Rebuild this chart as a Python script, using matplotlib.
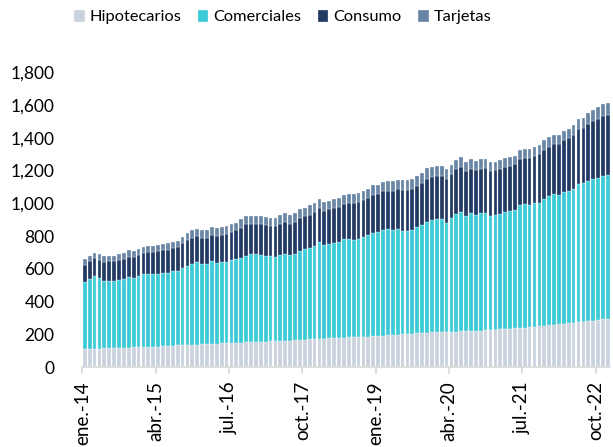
import numpy as np
import matplotlib
matplotlib.use('Agg')
import matplotlib.pyplot as plt
from matplotlib.ticker import FuncFormatter

plt.rcParams['font.family'] = ['Lato', 'DejaVu Sans']

# monthly, ene.14 .. dic.22
hipotecarios = [112, 112, 112, 113, 115, 117, 118, 118, 119, 120,
                122, 123, 124, 124, 125, 126, 127, 130, 132, 134,
                135, 137, 138, 139, 140, 141, 142, 144, 146, 147,
                148, 149, 151, 153, 154, 155, 156, 157, 158, 160,
                161, 162, 163, 164, 166, 168, 170, 171, 173, 175,
                177, 178, 179, 181, 183, 184, 185, 186, 187, 189,
                191, 193, 195, 197, 199, 201, 203, 205, 207, 209,
                211, 213, 214, 215, 216, 217, 218, 219, 220, 221,
                222, 224, 226, 228, 230, 232, 234, 236, 238, 240,
                242, 245, 248, 250, 253, 256, 259, 262, 265, 268,
                271, 274, 277, 280, 284, 288, 292, 296]

comerciales = [406, 427, 443, 432, 413, 411, 410, 414, 418, 429,
               421, 432, 443, 448, 447, 445, 447, 447, 454, 454,
               471, 483, 494, 501, 492, 489, 504, 492, 494, 497,
               504, 511, 517, 529, 536, 536, 531, 524, 519, 513,
               524, 531, 520, 527, 543, 554, 556, 567, 593, 571,
               575, 580, 585, 599, 600, 594, 598, 611, 618, 630,
               636, 644, 649, 642, 645, 632, 628, 632, 647, 660,
               674, 685, 691, 690, 666, 696, 719, 730, 705, 718,
               709, 717, 717, 697, 701, 705, 713, 717, 723, 750,
               752, 747, 752, 754, 776, 789, 798, 791, 804, 809,
               819, 846, 847, 856, 863, 869, 875, 877]

consumo = [106, 111, 112, 111, 116, 122, 122, 124, 125, 124,
           132, 132, 132, 133, 133, 140, 143, 140, 144, 148,
           154, 158, 159, 163, 159, 161, 161, 167, 167, 169,
           175, 179, 184, 192, 184, 183, 185, 187, 187, 189,
           189, 193, 193, 195, 202, 199, 203, 209, 206, 207,
           215, 214, 214, 216, 219, 224, 227, 222, 228, 234,
           231, 238, 231, 236, 244, 249, 251, 251, 254, 255,
           264, 266, 263, 264, 267, 266, 273, 275, 273, 269,
           273, 269, 273, 273, 273, 273, 275, 277, 279, 283,
           283, 285, 289, 297, 297, 299, 305, 309, 318, 322,
           327, 333, 334, 350, 355, 360, 368, 368]

tarjetas = [37, 29, 30, 33, 33, 31, 31, 33, 35, 41,
            34, 37, 35, 37, 37, 35, 37, 41, 36, 36,
            37, 39, 45, 41, 45, 45, 47, 49, 49, 49,
            47, 43, 51, 49, 49, 49, 51, 47, 47, 47,
            53, 53, 51, 53, 53, 52, 59, 53, 55, 55,
            49, 55, 57, 53, 53, 53, 55, 56, 57, 57,
            54, 53, 59, 59, 54, 58, 58, 62, 61, 61,
            64, 60, 61, 61, 63, 57, 53, 57, 56, 61,
            54, 59, 57, 56, 50, 55, 55, 51, 51, 51,
            53, 53, 55, 55, 59, 61, 57, 57, 54, 56,
            63, 64, 65, 63, 68, 71, 71, 73]

tick_labels = ['ene.-14', 'abr.-15', 'jul.-16', 'oct.-17',
               'ene.-19', 'abr.-20', 'jul.-21', 'oct.-22']

series = [('Hipotecarios', hipotecarios, '#C9D2DD'),
          ('Comerciales', comerciales, '#3BCAD7'),
          ('Consumo', consumo, '#213963'),
          ('Tarjetas', tarjetas, '#6A86A7')]

fig = plt.figure(figsize=(6.13, 4.47), dpi=100)
ax = fig.add_axes([0.1343, 0.1783, 0.8613, 0.660])

x = np.arange(len(hipotecarios))
bottom = np.zeros(len(x))
for name, vals, color in series:
  vals = np.array(vals, dtype=float)
  ax.bar(x, vals, width=0.76, bottom=bottom, color=color, label=name,
         edgecolor='white', linewidth=0.2)
  bottom += vals

ax.set_xlim(-0.5, len(x) - 0.5)
ax.set_ylim(0, 1800)
ax.set_yticks(np.arange(0, 1801, 200))
ax.yaxis.set_major_formatter(FuncFormatter(lambda v, p: '{:,.0f}'.format(v)))

ax.set_xticks(np.arange(0, len(x), 15) - 0.5)
ax.set_xticklabels(tick_labels, rotation=90, ha='center', va='top')

for s in ['top', 'right', 'left']:
  ax.spines[s].set_visible(False)
ax.spines['bottom'].set_color('#D9D9D9')
ax.spines['bottom'].set_linewidth(1.2)
ax.tick_params(axis='y', length=0, pad=20, labelsize=12.5, colors='black')
ax.tick_params(axis='x', length=5, width=1.2, color='#D9D9D9', pad=5, labelsize=13.5)

fig.legend(loc='center', bbox_to_anchor=(0.461, 0.962), ncol=4, frameon=False,
           fontsize=11.8, handlelength=0.65, handleheight=0.8, handletextpad=0.3,
           columnspacing=1.0, borderpad=0)

fig.savefig('out.png', dpi=100)
